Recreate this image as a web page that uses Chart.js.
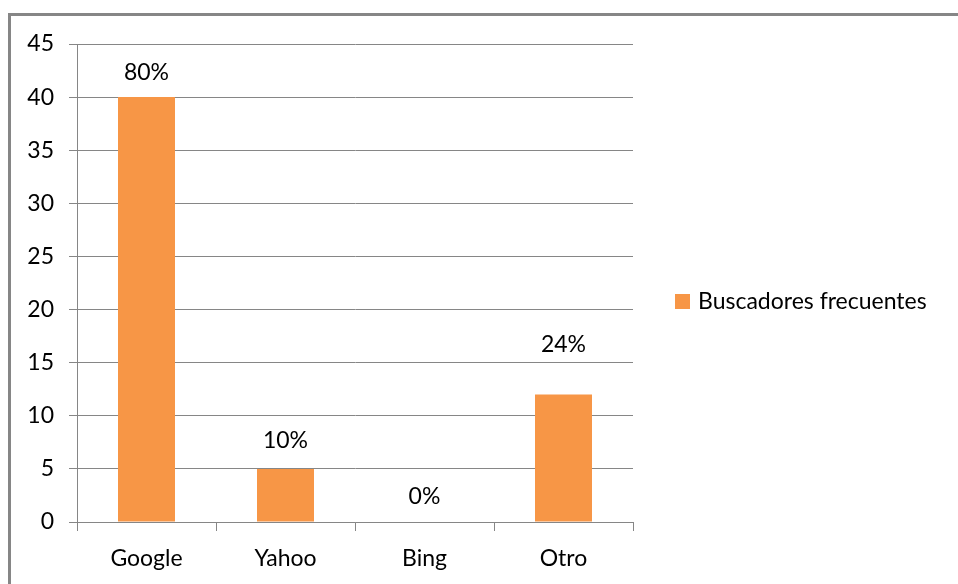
<!DOCTYPE html>
<html><head><meta charset="utf-8">
<script src="https://cdn.jsdelivr.net/npm/chart.js@4/dist/chart.umd.min.js"></script>
<style>
html,body{margin:0;padding:0;background:#fff;overflow:hidden;}
#wrap{position:relative;width:958px;height:584px;}
#frame{position:absolute;left:8px;top:13px;width:1200px;height:1200px;border:3px solid #868686;box-sizing:border-box;}
canvas{position:absolute;left:0;top:0;}
</style></head>
<body><div id="wrap"><div id="frame"></div><canvas id="c" width="958" height="584"></canvas></div>
<script>
const categories = ["Google", "Yahoo", "Bing", "Otro"];
const seriesName = "Buscadores frecuentes";
const values = [40, 5, 0, 12];
const percentLabels = ["80%", "10%", "0%", "24%"];
const yTicks = [0, 5, 10, 15, 20, 25, 30, 35, 40, 45];

const FONT = "Lato, 'Open Sans', sans-serif";
const FS = 23;
const GRID = "#868686";
const BAR = "#F79646";

const labelPlugin = {
  id: 'pctLabels',
  afterDatasetsDraw(chart, args, opts) {
    const ctx = chart.ctx;
    const meta = chart.getDatasetMeta(0);
    ctx.save();
    ctx.font = FS + "px " + FONT;
    ctx.fillStyle = "#000";
    ctx.textAlign = "center";
    ctx.textBaseline = "middle";
    meta.data.forEach((bar, i) => {
      const off = opts.offsets[i];
      ctx.fillText(percentLabels[i], bar.x, bar.y - off);
    });
    ctx.restore();
  }
};

const legendPlugin = {
  id: 'customLegend',
  afterDraw(chart, args, opts) {
    const ctx = chart.ctx;
    ctx.save();
    ctx.fillStyle = BAR;
    ctx.fillRect(opts.x, opts.y, 15, 15);
    ctx.font = FS + "px " + FONT;
    ctx.fillStyle = "#000";
    ctx.textAlign = "left";
    ctx.textBaseline = "middle";
    ctx.fillText(seriesName, opts.x + 23, opts.y + 8);
    ctx.restore();
  }
};

new Chart(document.getElementById('c'), {
  type: 'bar',
  data: {
    labels: categories,
    datasets: [{
      label: seriesName,
      data: values,
      backgroundColor: BAR,
      borderWidth: 0,
      barPercentage: 0.41,
      categoryPercentage: 1.0
    }]
  },
  options: {
    responsive: false,
    animation: false,
    layout: { padding: { left: 0, top: 44, right: 325, bottom: 0 } },
    plugins: {
      legend: { display: false },
      tooltip: { enabled: false },
      pctLabels: { offsets: [25, 28, 25, 50] },
      customLegend: { x: 675, y: 294 }
    },
    scales: {
      x: {
        afterFit(s) { s.height = 62; },
        grid: { offset: true, drawOnChartArea: false, color: GRID, tickLength: 9, lineWidth: 1 },
        border: { color: GRID, width: 1 },
        ticks: { color: "#000", font: { family: FONT, size: FS }, padding: 14, maxRotation: 0 }
      },
      y: {
        min: 0, max: 45,
        afterFit(s) { s.width = 77; },
        afterBuildTicks(s) { s.ticks = yTicks.map(v => ({ value: v })); },
        grid: { color: GRID, tickLength: 8, lineWidth: 1 },
        border: { color: GRID, width: 1 },
        ticks: { color: "#000", font: { family: FONT, size: FS }, padding: 15 }
      }
    }
  },
  plugins: [labelPlugin, legendPlugin]
});
</script>
</body></html>
